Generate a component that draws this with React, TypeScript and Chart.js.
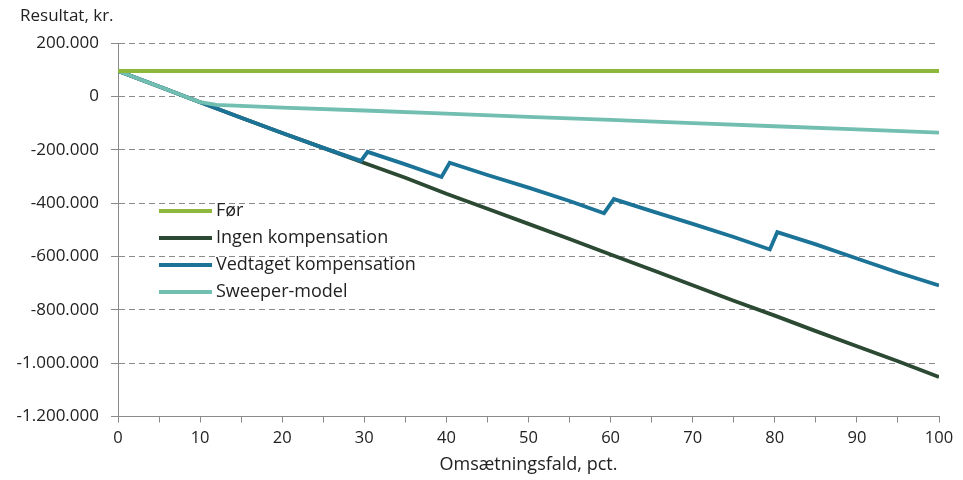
import React, { useEffect, useRef } from 'react';
import { Chart, registerables } from 'chart.js';

Chart.register(...registerables);

const yAxisTitle = 'Resultat, kr.';
const xAxisTitle = 'Omsætningsfald, pct.';

const seriesNames = ['Før', 'Ingen kompensation', 'Vedtaget kompensation', 'Sweeper-model'];
const seriesColors = ['#8DB83C', '#2C4A33', '#1C7398', '#72BEB0'];

const forX = [0, 100];
const forY = [95000, 95000];

const ingenX = [0, 5, 10, 15, 20, 25, 30, 35, 40, 45, 50, 55, 60, 65, 70, 75, 80, 85, 90, 95, 100];
const ingenY = [95000, 37000, -22000, -80000, -137000, -193000, -250000, -305000, -365000, -421000, -478000, -535000, -593000, -650000, -708000, -766000, -822000, -880000, -937000, -993000, -1052000];

const vedtagetX = [0, 5, 10, 15, 20, 25, 29.6, 30.4, 35, 39.4, 40.4, 45, 50, 55, 59.2, 60.4, 65, 70, 75, 79.4, 80.3, 85, 90, 95, 100];
const vedtagetY = [95000, 37000, -22000, -80000, -137000, -193000, -242000, -208000, -255000, -302000, -249000, -295000, -342000, -392000, -438000, -385000, -430000, -478000, -527000, -574000, -509000, -555000, -608000, -660000, -709000];

const sweeperX = [0, 5, 10, 12, 15, 20, 30, 40, 50, 60, 70, 80, 90, 100];
const sweeperY = [95000, 37000, -22000, -32000, -36000, -42000, -53000, -65000, -77000, -88000, -100000, -112000, -124000, -136000];

const yMin = -1200000;
const yMax = 200000;
const yStep = 200000;

const FONT = '"Open Sans", "Noto Sans", sans-serif';
const TEXT = '#222222';
const GRID = '#8a8a8a';

function fmt(v: number): string {
  const s = Math.abs(Math.round(v)).toString().replace(/\B(?=(\d{3})+(?!\d))/g, '.');
  return v < 0 ? '-' + s : s;
}

function pts(xs: number[], ys: number[]) {
  return xs.map((x, i) => ({ x, y: ys[i] }));
}

const overlayPlugin = {
  id: 'overlay',
  afterDraw(chart: any) {
    const ctx = chart.ctx;
    const area = chart.chartArea;
    ctx.save();
    ctx.fillStyle = TEXT;
    ctx.font = `17px ${FONT}`;
    ctx.textBaseline = 'middle';
    ctx.textAlign = 'left';
    ctx.fillText(yAxisTitle, 20, 16);

    ctx.font = `18px ${FONT}`;
    const x0 = area.left + 41;
    const y0 = area.top + 168;
    chart.data.datasets.forEach((ds: any, i: number) => {
      const y = y0 + i * 27;
      ctx.strokeStyle = ds.borderColor;
      ctx.lineWidth = 4;
      ctx.beginPath();
      ctx.moveTo(x0, y);
      ctx.lineTo(x0 + 53, y);
      ctx.stroke();
      ctx.fillStyle = TEXT;
      ctx.fillText(ds.label, x0 + 57, y);
    });
    ctx.restore();
  },
};

export default function App() {
  const ref = useRef<HTMLCanvasElement>(null);
  useEffect(() => {
    document.body.style.margin = '0';
    const datasets = [
      { xs: forX, ys: forY, order: 0 },
      { xs: ingenX, ys: ingenY, order: 3 },
      { xs: vedtagetX, ys: vedtagetY, order: 2 },
      { xs: sweeperX, ys: sweeperY, order: 1 },
    ].map((d, i) => ({
      label: seriesNames[i],
      data: pts(d.xs, d.ys),
      borderColor: seriesColors[i],
      backgroundColor: seriesColors[i],
      borderWidth: 3.8,
      pointRadius: 0,
      tension: 0,
      fill: false,
      order: d.order,
    }));
    const chart = new Chart(ref.current!, {
      type: 'line',
      data: { datasets },
      plugins: [overlayPlugin],
      options: {
        animation: false,
        responsive: false,
        maintainAspectRatio: false,
        layout: { padding: { top: 43, right: 24, left: 0, bottom: 0 } },
        plugins: {
          legend: { display: false },
          title: { display: false },
          tooltip: { enabled: false },
        },
        scales: {
          x: {
            type: 'linear',
            min: 0,
            max: 100,
            afterFit: (s: any) => { s.height = 63.5; },
            ticks: {
              stepSize: 5,
              autoSkip: false,
              maxRotation: 0,
              padding: 6,
              color: TEXT,
              font: { family: FONT, size: 16.5 },
              callback: (v: any) => (Number(v) % 10 === 0 ? String(v) : ''),
            },
            grid: {
              drawOnChartArea: false,
              drawTicks: true,
              tickLength: 6,
              tickColor: GRID,
            },
            border: { display: true, color: GRID, width: 1 },
            title: {
              display: true,
              text: xAxisTitle,
              color: TEXT,
              font: { family: FONT, size: 18 },
              padding: { top: 0, bottom: 4 },
            },
          },
          y: {
            type: 'linear',
            min: yMin,
            max: yMax,
            afterFit: (s: any) => { s.width = 118; },
            ticks: {
              stepSize: yStep,
              padding: 12,
              color: TEXT,
              font: { family: FONT, size: 17 },
              callback: (v: any) => fmt(Number(v)),
            },
            grid: {
              color: GRID,
              lineWidth: 1,
              drawTicks: true,
              tickLength: 7,
              tickColor: GRID,
              tickBorderDash: [],
            },
            border: { display: true, color: GRID, width: 1, dash: [6, 4] },
          },
        },
      },
    });
    return () => chart.destroy();
  }, []);
  return <canvas ref={ref} width={963} height={480} style={{ display: 'block' }} />;
}
